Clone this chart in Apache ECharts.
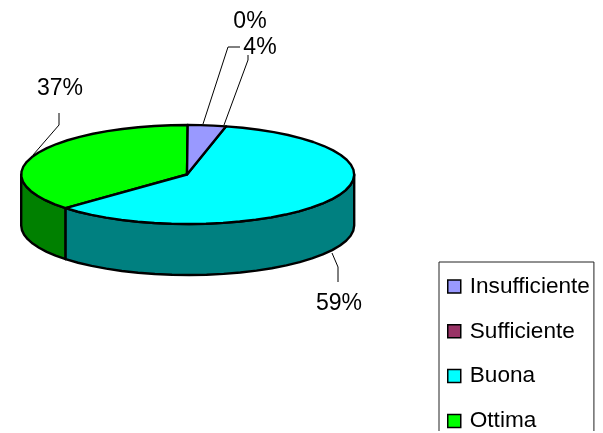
<!DOCTYPE html>
<html><head><meta charset="utf-8">
<style>html,body{margin:0;background:#fff;overflow:hidden}#w{width:603px;height:431px;overflow:hidden}#c{width:603px;height:520px}</style>
<script src="https://cdn.jsdelivr.net/npm/echarts@6/dist/echarts.min.js"></script>
</head><body><div id="w"><div id="c"></div></div>
<script>
const categories = ['Insufficiente', 'Sufficiente', 'Buona', 'Ottima'];
const values = [3.7, 0, 59.4, 36.9];
const topColors = ['#9999FF', '#993366', '#00FFFF', '#00FF00'];
const wallColors = ['#4C4C80', '#4C1933', '#008080', '#008000'];

const FONT = '"Liberation Sans", Arial, sans-serif';
const pie = {cx: 187.7, cy: 174.5, rx: 166.5, ry: 49.5, depth: 51};
const leaders = [
  {pts: [[224, 125], [248, 60], [248, 55]], text: [260, 47]},
  {pts: [[203, 124], [228, 47], [240, 47]], text: [250, 21]},
  {pts: [[332, 253], [338, 267], [338, 282]], text: [339, 303]},
  {pts: [[33, 155], [59, 125], [59, 113]], text: [60, 88]}
];
const total = values.reduce((a, b) => a + b, 0);
const pt = (deg, dy) => {
  const t = deg * Math.PI / 180;
  return [pie.cx + pie.rx * Math.sin(t), pie.cy - pie.ry * Math.cos(t) + (dy || 0)];
};
const arc = (a, b, dy) => {
  const n = Math.max(1, Math.ceil(Math.abs(b - a) / 6)), out = [];
  for (let k = 0; k <= n; k++) out.push(pt(a + (b - a) * k / n, dy));
  return out;
};
function renderSlice(i) {
  return function (params, api) {
    const before = values.slice(0, i).reduce((a, b) => a + b, 0);
    const a0 = before / total * 360;
    const a1 = a0 + api.value(0) / total * 360;
    const kids = [];
    const stroke = {stroke: '#000', lineWidth: 2.4, lineJoin: 'round'};
    const w0 = Math.max(a0, 90), w1 = Math.min(a1, 270);
    if (w1 > w0) {
      kids.push({type: 'polygon', shape: {points: arc(w0, w1, 0).concat(arc(w1, w0, pie.depth))},
        style: Object.assign({fill: wallColors[i]}, stroke)});
    }
    if (a1 > a0) {
      kids.push({type: 'polygon', shape: {points: [[pie.cx - 0.7, pie.cy]].concat(arc(a0, a1, 0))},
        style: Object.assign({fill: topColors[i]}, stroke)});
    }
    const L = leaders[i];
    kids.push({type: 'polyline', z2: 5, shape: {points: L.pts}, style: {stroke: '#000', lineWidth: 1, fill: null}});
    kids.push({type: 'text', z2: 6, x: L.text[0], y: L.text[1], scaleX: 0.96,
      style: {text: Math.round(api.value(0) / total * 100) + '%', align: 'center', verticalAlign: 'middle',
        fontSize: 24, fontFamily: FONT, fill: '#000'}});
    return {type: 'group', children: kids};
  };
}
const chart = echarts.init(document.getElementById('c'), null, {renderer: 'canvas'});
chart.setOption({
  animation: false,
  backgroundColor: '#fff',
  tooltip: {show: false},
  legend: {
    orient: 'vertical', left: 439, top: 262, selectedMode: false,
    padding: [13, 4, 30, 8], itemGap: 21.8, itemWidth: 13, itemHeight: 13,
    borderColor: '#222', borderWidth: 1, icon: 'rect',
    textStyle: {fontSize: 22.6, fontFamily: FONT, color: '#000', padding: [0, 0, 0, 4]},
    data: categories.map((n, i) => ({name: n, itemStyle: {color: topColors[i], borderColor: '#000', borderWidth: 1.5}}))
  },
  series: categories.map((n, i) => ({
    type: 'custom', name: n, coordinateSystem: 'none', silent: true,
    itemStyle: {color: topColors[i]},
    renderItem: renderSlice(i), data: [[values[i]]]
  })).reverse()
});
</script></body></html>
